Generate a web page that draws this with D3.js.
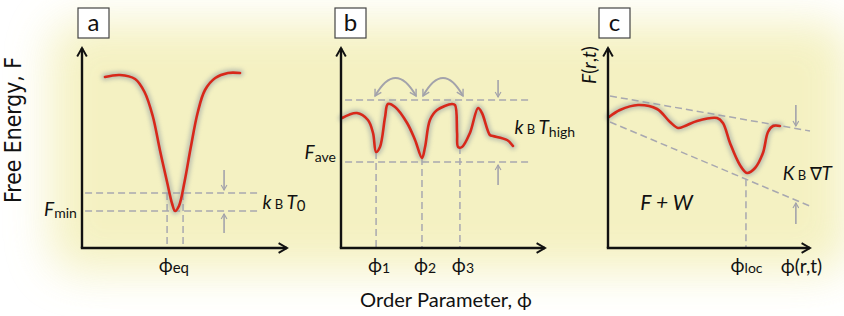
<!doctype html>
<html>
<head>
<meta charset="utf-8">
<style>
  body { margin: 0; background: #fff; }
  text { font-family: Lato, "Open Sans", sans-serif; fill: #111; }
</style>
</head>
<body>
  <svg id="chart"></svg>
</body>
<script src="https://cdn.jsdelivr.net/npm/d3@7"></script>
<script>
    // panel curves, in 0..100 units on both axes
    const curveA = [[11.2,85.5],[18.5,86.5],[25.9,84.5],[30.5,78],[34.5,66],[38,49],[41.5,33],[44,22],[45.4,18.5],[47.3,21],[50,33],[53,50],[56.5,68],[60,79],[65,85],[71.2,87.5],[77.1,87.5]];
    const curveB = [[0.5,65],[7.8,67.5],[13.2,64],[15.7,57.5],[17.2,48],[19.1,50.5],[21.6,65.5],[23,72],[26.5,70.5],[32.4,62.5],[36.3,54],[39.7,45],[41.2,50.5],[43.6,64],[47.1,69],[54.4,72],[55.9,71.5],[56.9,57.5],[57.4,50.5],[59.3,50.5],[63.2,57.5],[67.2,70],[69.1,67.5],[73,56.5],[74.5,56],[81.4,54],[84.3,51]];
    const curveC = [[0.5,65.5],[5.9,69],[14.9,71.5],[24.3,69.5],[30.7,63],[34.7,60],[38.1,61],[44.1,63.5],[54,65],[56.9,62.5],[60.4,52.5],[65.3,41.5],[68.8,37.5],[72.8,40],[76.7,47.5],[79.2,58],[81.7,61],[85.1,61]];

    // guide lines [x1,y1,x2,y2]
    const dashA = [[1.5,27.5,86.8,27.5],[1.5,18.5,86.8,18.5],[41.5,27.5,41.5,0],[49.3,27.5,49.3,0]];
    const dashB = [[2,74,92.6,74],[2,43,92.6,43],[17.2,48,17.2,0],[39.7,45,39.7,0],[58.3,50.5,58.3,0]];
    const dashC = [[1,76,100,58.5],[1,63,101,20.5],[68.3,34.4,68.3,0]];

    // gray pointer arrows [x, yFrom, yTo]
    const arrowsA = [[69.3,39,29],[69.3,7.5,17]];
    const arrowsB = [[77,84,75.5],[77,31.5,41.5]];
    const arrowsC = [[93,71.5,61],[93,12,22.5]];

    // hop arcs in b: [xStart, xEnd, yEnds, yControl]
    const hops = [[16.7,36.8,76,94],[40.2,59.8,76,94]];

    const panelNames = ["a", "b", "c"];

    const W = 844, H = 316;
    const svg = d3.select("#chart").attr("width", W).attr("height", H);
    const defs = svg.append("defs");

    const bgBlur = defs.append("filter").attr("id", "bgblur")
      .attr("x", "-20%").attr("y", "-30%").attr("width", "140%").attr("height", "160%");
    bgBlur.append("feGaussianBlur").attr("stdDeviation", 22);

    const glow = defs.append("filter").attr("id", "glow")
      .attr("x", "-10%").attr("y", "-20%").attr("width", "120%").attr("height", "140%");
    glow.append("feGaussianBlur").attr("stdDeviation", 2.2);

    defs.append("marker").attr("id", "axhead")
      .attr("viewBox", "0 0 10 10").attr("refX", 8).attr("refY", 5)
      .attr("markerWidth", 5).attr("markerHeight", 5).attr("markerUnits", "strokeWidth")
      .attr("orient", "auto")
      .append("path").attr("d", "M1,1 L8,5 L1,9").attr("fill", "none")
      .attr("stroke", "#111").attr("stroke-width", 1.6);

    defs.append("marker").attr("id", "grayhead")
      .attr("viewBox", "0 0 10 10").attr("refX", 8).attr("refY", 5)
      .attr("markerWidth", 4.5).attr("markerHeight", 4.5).attr("markerUnits", "strokeWidth")
      .attr("orient", "auto-start-reverse")
      .append("path").attr("d", "M1,1 L8,5 L1,9").attr("fill", "none")
      .attr("stroke", "#a3a3ab").attr("stroke-width", 1.6);

    // soft yellow background glow
    svg.append("rect").attr("x", 50).attr("y", 22).attr("width", 800).attr("height", 250)
      .attr("rx", 30).attr("fill", "#f3efb8").attr("opacity", 0.85)
      .attr("filter", "url(#bgblur)");

    const panels = [
      { name: "a", x0: 82, x1: 287, curve: curveA, dash: dashA, arrows: arrowsA, box: 78 },
      { name: "b", x0: 341, x1: 545, curve: curveB, dash: dashB, arrows: arrowsB, box: 335 },
      { name: "c", x0: 608, x1: 810, curve: curveC, dash: dashC, arrows: arrowsC, box: 599 }
    ];

    const line = d3.line().curve(d3.curveCatmullRom.alpha(0.5));

    panels.forEach(p => {
      p.x = d3.scaleLinear().domain([0, 100]).range([p.x0, p.x1]);
      p.y = d3.scaleLinear().domain([0, 100]).range([248, 48]);
      const g = svg.append("g");

      g.selectAll(".dash").data(p.dash).enter().append("line")
        .attr("x1", d => p.x(d[0])).attr("y1", d => p.y(d[1]))
        .attr("x2", d => p.x(d[2])).attr("y2", d => p.y(d[3]))
        .attr("stroke", "#a8a8b0").attr("stroke-width", 1.5)
        .attr("stroke-dasharray", "7,4");

      g.selectAll(".ptr").data(p.arrows).enter().append("line")
        .attr("x1", d => p.x(d[0])).attr("y1", d => p.y(d[1]))
        .attr("x2", d => p.x(d[0])).attr("y2", d => p.y(d[2]))
        .attr("stroke", "#a3a3ab").attr("stroke-width", 1.6)
        .attr("marker-end", "url(#grayhead)");

      const pts = p.curve.map(d => [p.x(d[0]), p.y(d[1])]);
      g.append("path").attr("d", line(pts)).attr("fill", "none")
        .attr("stroke", "#8f9aa0").attr("stroke-width", 7).attr("opacity", 0.55)
        .attr("stroke-linecap", "round").attr("filter", "url(#glow)");
      g.append("path").attr("d", line(pts)).attr("fill", "none")
        .attr("stroke", "#d8281a").attr("stroke-width", 2.6)
        .attr("stroke-linecap", "round").attr("stroke-linejoin", "round");

      // axes
      g.append("line").attr("x1", p.x(0)).attr("y1", p.y(0)).attr("x2", p.x(0)).attr("y2", p.y(100))
        .attr("stroke", "#111").attr("stroke-width", 2.4).attr("marker-end", "url(#axhead)");
      g.append("line").attr("x1", p.x(0) - 1.2).attr("y1", p.y(0)).attr("x2", p.x(100)).attr("y2", p.y(0))
        .attr("stroke", "#111").attr("stroke-width", 2.4).attr("marker-end", "url(#axhead)");

      // panel letter box
      g.append("rect").attr("x", p.box).attr("y", 8).attr("width", 31).attr("height", 30)
        .attr("fill", "#fff").attr("stroke", "#444").attr("stroke-width", 1.2);
      g.append("text").attr("x", p.box + 15.5).attr("y", 30.5).attr("text-anchor", "middle")
        .style("font-size", "24px").text(p.name);
    });

    // hop arcs in panel b
    const pb = panels[1];
    svg.selectAll(".hop").data(hops).enter().append("path")
      .attr("d", d => `M${pb.x(d[0])},${pb.y(d[2])} Q${pb.x((d[0] + d[1]) / 2)},${pb.y(d[3])} ${pb.x(d[1])},${pb.y(d[2])}`)
      .attr("fill", "none").attr("stroke", "#a3a3ab").attr("stroke-width", 2)
      .attr("marker-start", "url(#grayhead)").attr("marker-end", "url(#grayhead)");

    // labels
    function label(x, y, parts, size, anchor) {
      const t = svg.append("text").attr("x", x).attr("y", y)
        .attr("text-anchor", anchor || "start").style("font-size", size + "px");
      parts.forEach(q => {
        const s = t.append("tspan").text(q.t);
        if (q.i) s.style("font-style", "italic");
        if (q.s) s.style("font-size", q.s + "px");
        if (q.dy) s.attr("dy", q.dy);
        if (q.dx) s.attr("dx", q.dx);
      });
      return t;
    }
    const pa = panels[0], pc = panels[2];

    label(pa.x(-2.5), pa.y(16), [{ t: "F", i: 1 }, { t: "min", s: 14, dy: 2 }], 19, "end");
    label(pa.x(88), pa.y(19.5), [{ t: "k", i: 1 }, { t: " B ", s: 13 }, { t: "T", i: 1 }, { t: "0", s: 15, dy: 2 }], 19);
    label(pa.x(44.8), 272, [{ t: "ϕ" }, { t: "eq", s: 15, dy: 1 }], 19, "middle");

    label(pb.x(-2.5), pb.y(44.5), [{ t: "F", i: 1 }, { t: "ave", s: 14, dy: 3 }], 19, "end");
    label(pb.x(85), pb.y(57), [{ t: "k", i: 1 }, { t: " B ", s: 13 }, { t: "T", i: 1 }, { t: "high", s: 14, dy: 3 }], 19);
    ["1", "2", "3"].forEach((n, i) => {
      label(pb.x(dashB[i + 2][0]) + 3, 272, [{ t: "ϕ" }, { t: n, s: 14, dy: 1 }], 19, "middle");
    });

    label(pc.x(16), 210, [{ t: "F + W", i: 1 }], 21);
    label(pc.x(86.5), pc.y(34), [{ t: "K", i: 1 }, { t: " B ", s: 13 }, { t: "∇", s: 18 }, { t: "T", i: 1 }], 19);
    label(pc.x(68.6), 272, [{ t: "ϕ" }, { t: "loc", s: 14, dy: 1 }], 19, "middle");
    label(pc.x(85.5), 273, [{ t: "ϕ(r,t)" }], 19);
    label(0, 0, [{ t: "F", i: 1 }, { t: "(" }, { t: "r", i: 1 }, { t: "," }, { t: "t", i: 1 }, { t: ")" }], 19, "middle")
      .attr("transform", `translate(${pc.x(0) - 12},${65}) rotate(-90)`);

    svg.append("text").attr("text-anchor", "middle")
      .attr("transform", "translate(21,130) rotate(-90)")
      .style("font-family", "'DejaVu Sans', Verdana, sans-serif").style("font-size", "23px")
      .attr("textLength", 146).attr("lengthAdjust", "spacingAndGlyphs")
      .text("Free Energy, F");
    svg.append("text").attr("x", 446).attr("y", 307).attr("text-anchor", "middle")
      .style("font-size", "19px")
      .attr("textLength", 172).attr("lengthAdjust", "spacingAndGlyphs")
      .text("Order Parameter, ϕ");
</script>
</html>
